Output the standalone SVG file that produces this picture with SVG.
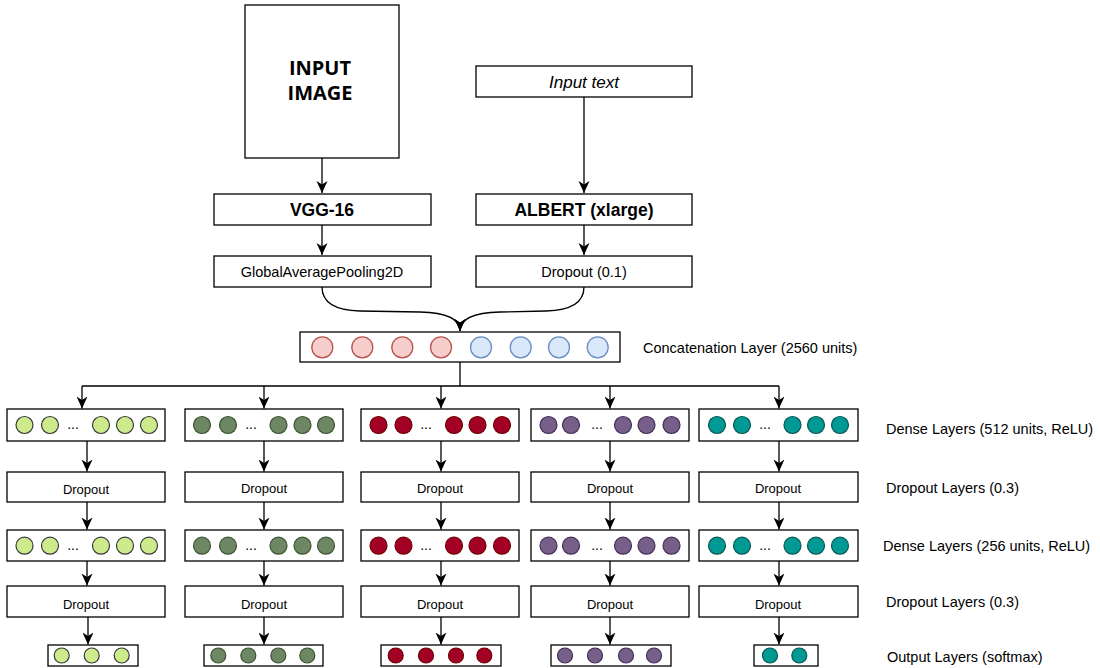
<svg xmlns="http://www.w3.org/2000/svg" width="1100" height="668" viewBox="0 0 1100 668">
<defs>
<marker id="arr" markerUnits="userSpaceOnUse" markerWidth="13" markerHeight="12" viewBox="0 0 13 12" refX="12" refY="6" orient="auto">
<path d="M0,0.5 L12,6 L0,11.5 L3.5,6 Z" fill="#000"/>
</marker>
<style>
.box{fill:#fff;stroke:#000;stroke-width:1.3}
.t{font-family:"Liberation Sans",Arial,Helvetica,sans-serif;fill:#000;text-anchor:middle}
.lbl{font-family:"Liberation Sans",Arial,Helvetica,sans-serif;fill:#000;font-size:14.5px}
.big{font-family:"Open Sans","Liberation Sans",sans-serif;font-weight:bold;font-size:20px;text-anchor:middle;fill:#000}
.b{font-weight:bold;font-size:17.5px}
.m{font-size:14.5px}
.d{font-size:13px}
.e{font-size:14px}
.ln{fill:none;stroke:#000;stroke-width:1.3}
.r{fill:#f8cecc;stroke:#b85450;stroke-width:1.3}
.u{fill:#dae8fc;stroke:#6c8ebf;stroke-width:1.3}
.c1{fill:#cdeb8b;stroke:#36393d;stroke-width:1.2}
.c2{fill:#6d8764;stroke:#3a5431;stroke-width:1.2}
.c3{fill:#a20025;stroke:#6f0000;stroke-width:1.2}
.c4{fill:#76608a;stroke:#432d57;stroke-width:1.2}
.c5{fill:#009994;stroke:#0a5552;stroke-width:1.2}
</style>
</defs>
<rect width="1100" height="668" fill="#fff"/>

<g id="connectors">
<path class="ln" d="M322,158 V193" marker-end="url(#arr)"/>
<path class="ln" d="M584,97 V193" marker-end="url(#arr)"/>
<path class="ln" d="M322,225 V255" marker-end="url(#arr)"/>
<path class="ln" d="M584,225 V255" marker-end="url(#arr)"/>
<path class="ln" d="M322,287 Q322,310 360,311 L420,312 Q460,313 460,331" marker-end="url(#arr)"/>
<path class="ln" d="M584,287 Q584,310 546,311 L500,312 Q460,313 460,331" marker-end="url(#arr)"/>
<path class="ln" d="M460,362 V386 M82,386 H779"/>
<path class="ln" d="M82,386 V408.5" marker-end="url(#arr)"/>
<path class="ln" d="M264,386 V408.5" marker-end="url(#arr)"/>
<path class="ln" d="M441,386 V408.5" marker-end="url(#arr)"/>
<path class="ln" d="M610,386 V408.5" marker-end="url(#arr)"/>
<path class="ln" d="M779,386 V408.5" marker-end="url(#arr)"/>
<path class="ln" d="M87,441 V471.5" marker-end="url(#arr)"/>
<path class="ln" d="M264,441 V471.5" marker-end="url(#arr)"/>
<path class="ln" d="M441,441 V471.5" marker-end="url(#arr)"/>
<path class="ln" d="M610,441 V471.5" marker-end="url(#arr)"/>
<path class="ln" d="M779,441 V471.5" marker-end="url(#arr)"/>
<path class="ln" d="M87,502 V529.5" marker-end="url(#arr)"/>
<path class="ln" d="M264,502 V529.5" marker-end="url(#arr)"/>
<path class="ln" d="M441,502 V529.5" marker-end="url(#arr)"/>
<path class="ln" d="M610,502 V529.5" marker-end="url(#arr)"/>
<path class="ln" d="M779,502 V529.5" marker-end="url(#arr)"/>
<path class="ln" d="M87,561 V585.5" marker-end="url(#arr)"/>
<path class="ln" d="M264,561 V585.5" marker-end="url(#arr)"/>
<path class="ln" d="M441,561 V585.5" marker-end="url(#arr)"/>
<path class="ln" d="M610,561 V585.5" marker-end="url(#arr)"/>
<path class="ln" d="M779,561 V585.5" marker-end="url(#arr)"/>
<path class="ln" d="M88,617 V644.5" marker-end="url(#arr)"/>
<path class="ln" d="M264,617 V644.5" marker-end="url(#arr)"/>
<path class="ln" d="M441,617 V644.5" marker-end="url(#arr)"/>
<path class="ln" d="M610,617 V644.5" marker-end="url(#arr)"/>
<path class="ln" d="M779,617 V644.5" marker-end="url(#arr)"/>
</g>

<g id="input-image">
<rect class="box" x="245" y="5" width="154" height="153"/>
<text class="big" x="320" y="75">INPUT</text>
<text class="big" x="320" y="100">IMAGE</text>
</g>
<g id="input-text">
<rect class="box" x="476" y="66" width="216" height="31"/>
<text class="t" x="584" y="88" font-style="italic" style="font-size:17px">Input text</text>
</g>
<g id="vgg16">
<rect class="box" x="214" y="194" width="217" height="31"/>
<text class="t b" x="322" y="216">VGG-16</text>
</g>
<g id="albert">
<rect class="box" x="476" y="194" width="216" height="31"/>
<text class="t b" x="584" y="216">ALBERT (xlarge)</text>
</g>
<g id="gap">
<rect class="box" x="214" y="256" width="217" height="31"/>
<text class="t m" x="322" y="277">GlobalAveragePooling2D</text>
</g>
<g id="dropout01">
<rect class="box" x="476" y="256" width="216" height="31"/>
<text class="t m" x="584" y="277">Dropout (0.1)</text>
</g>

<g id="concat">
<rect class="box" x="300" y="332" width="320" height="30"/>
<circle class="r" cx="322.3" cy="347.3" r="10.5"/>
<circle class="r" cx="362.3" cy="347.3" r="10.5"/>
<circle class="r" cx="402.3" cy="347.3" r="10.5"/>
<circle class="r" cx="441" cy="347.3" r="10.5"/>
<circle class="u" cx="481" cy="347.3" r="10.5"/>
<circle class="u" cx="520.7" cy="347.3" r="10.5"/>
<circle class="u" cx="559" cy="347.3" r="10.5"/>
<circle class="u" cx="597.7" cy="347.3" r="10.5"/>
</g>
<text class="lbl" x="643" y="353">Concatenation Layer (2560 units)</text>

<!-- Dense row 1 -->
<g id="dense1-1">
<rect class="box" x="7" y="409" width="158" height="32"/>
<circle class="c1" cx="24.5" cy="425" r="8.5"/><circle class="c1" cx="50" cy="425" r="8.5"/>
<text class="t e" x="73" y="429">...</text>
<circle class="c1" cx="101" cy="425" r="8.5"/><circle class="c1" cx="125" cy="425" r="8.5"/><circle class="c1" cx="149" cy="425" r="8.5"/>
</g>
<g id="dense1-2">
<rect class="box" x="185" y="409" width="158" height="32"/>
<circle class="c2" cx="202" cy="425" r="8.5"/><circle class="c2" cx="228" cy="425" r="8.5"/>
<text class="t e" x="251" y="429">...</text>
<circle class="c2" cx="278.5" cy="425" r="8.5"/><circle class="c2" cx="302.5" cy="425" r="8.5"/><circle class="c2" cx="326" cy="425" r="8.5"/>
</g>
<g id="dense1-3">
<rect class="box" x="361" y="409" width="158" height="32"/>
<circle class="c3" cx="378.5" cy="425" r="8.5"/><circle class="c3" cx="403.5" cy="425" r="8.5"/>
<text class="t e" x="426" y="429">...</text>
<circle class="c3" cx="454" cy="425" r="8.5"/><circle class="c3" cx="477.5" cy="425" r="8.5"/><circle class="c3" cx="502" cy="425" r="8.5"/>
</g>
<g id="dense1-4">
<rect class="box" x="531" y="409" width="158" height="32"/>
<circle class="c4" cx="548.5" cy="425" r="8.5"/><circle class="c4" cx="571" cy="425" r="8.5"/>
<text class="t e" x="597" y="429">...</text>
<circle class="c4" cx="623" cy="425" r="8.5"/><circle class="c4" cx="646.5" cy="425" r="8.5"/><circle class="c4" cx="671.5" cy="425" r="8.5"/>
</g>
<g id="dense1-5">
<rect class="box" x="699" y="409" width="159" height="32"/>
<circle class="c5" cx="717" cy="425" r="8.5"/><circle class="c5" cx="742" cy="425" r="8.5"/>
<text class="t e" x="765" y="429">...</text>
<circle class="c5" cx="792.5" cy="425" r="8.5"/><circle class="c5" cx="816" cy="425" r="8.5"/><circle class="c5" cx="840" cy="425" r="8.5"/>
</g>
<text class="lbl" x="886" y="434">Dense Layers (512 units, ReLU)</text>

<!-- Dropout row 1 -->
<g id="drop1-1"><rect class="box" x="7" y="472" width="158" height="30"/><text class="t d" x="86" y="494">Dropout</text></g>
<g id="drop1-2"><rect class="box" x="185" y="472" width="158" height="30"/><text class="t d" x="264" y="493">Dropout</text></g>
<g id="drop1-3"><rect class="box" x="361" y="472" width="158" height="30"/><text class="t d" x="440" y="493">Dropout</text></g>
<g id="drop1-4"><rect class="box" x="531" y="472" width="158" height="30"/><text class="t d" x="610" y="493">Dropout</text></g>
<g id="drop1-5"><rect class="box" x="699" y="472" width="159" height="30"/><text class="t d" x="778" y="493">Dropout</text></g>
<text class="lbl" x="886" y="493">Dropout Layers (0.3)</text>

<!-- Dense row 2 -->
<g id="dense2-1">
<rect class="box" x="7" y="530" width="158" height="31"/>
<circle class="c1" cx="24.5" cy="545.7" r="8.5"/><circle class="c1" cx="50" cy="545.7" r="8.5"/>
<text class="t e" x="73" y="550">...</text>
<circle class="c1" cx="101" cy="545.7" r="8.5"/><circle class="c1" cx="125" cy="545.7" r="8.5"/><circle class="c1" cx="149" cy="545.7" r="8.5"/>
</g>
<g id="dense2-2">
<rect class="box" x="185" y="530" width="158" height="31"/>
<circle class="c2" cx="202" cy="545.7" r="8.5"/><circle class="c2" cx="228" cy="545.7" r="8.5"/>
<text class="t e" x="251" y="550">...</text>
<circle class="c2" cx="278.5" cy="545.7" r="8.5"/><circle class="c2" cx="302.5" cy="545.7" r="8.5"/><circle class="c2" cx="326" cy="545.7" r="8.5"/>
</g>
<g id="dense2-3">
<rect class="box" x="361" y="530" width="158" height="31"/>
<circle class="c3" cx="378.5" cy="545.7" r="8.5"/><circle class="c3" cx="403.5" cy="545.7" r="8.5"/>
<text class="t e" x="426" y="550">...</text>
<circle class="c3" cx="454" cy="545.7" r="8.5"/><circle class="c3" cx="477.5" cy="545.7" r="8.5"/><circle class="c3" cx="502" cy="545.7" r="8.5"/>
</g>
<g id="dense2-4">
<rect class="box" x="531" y="530" width="158" height="31"/>
<circle class="c4" cx="548.5" cy="545.7" r="8.5"/><circle class="c4" cx="571" cy="545.7" r="8.5"/>
<text class="t e" x="597" y="550">...</text>
<circle class="c4" cx="623" cy="545.7" r="8.5"/><circle class="c4" cx="646.5" cy="545.7" r="8.5"/><circle class="c4" cx="671.5" cy="545.7" r="8.5"/>
</g>
<g id="dense2-5">
<rect class="box" x="699" y="530" width="159" height="31"/>
<circle class="c5" cx="717" cy="545.7" r="8.5"/><circle class="c5" cx="742" cy="545.7" r="8.5"/>
<text class="t e" x="765" y="550">...</text>
<circle class="c5" cx="792.5" cy="545.7" r="8.5"/><circle class="c5" cx="816" cy="545.7" r="8.5"/><circle class="c5" cx="840" cy="545.7" r="8.5"/>
</g>
<text class="lbl" x="883" y="551">Dense Layers (256 units, ReLU)</text>

<!-- Dropout row 2 -->
<g id="drop2-1"><rect class="box" x="7" y="586" width="158" height="31"/><text class="t d" x="86" y="609">Dropout</text></g>
<g id="drop2-2"><rect class="box" x="185" y="586" width="158" height="31"/><text class="t d" x="264" y="609">Dropout</text></g>
<g id="drop2-3"><rect class="box" x="361" y="586" width="158" height="31"/><text class="t d" x="440" y="609">Dropout</text></g>
<g id="drop2-4"><rect class="box" x="531" y="586" width="158" height="31"/><text class="t d" x="610" y="609">Dropout</text></g>
<g id="drop2-5"><rect class="box" x="699" y="586" width="159" height="31"/><text class="t d" x="778" y="609">Dropout</text></g>
<text class="lbl" x="886" y="607">Dropout Layers (0.3)</text>

<!-- Output layers -->
<g id="out-1">
<rect class="box" x="48" y="645" width="90" height="21"/>
<circle class="c1" cx="61.7" cy="655.5" r="7.5"/><circle class="c1" cx="91.7" cy="655.5" r="7.5"/><circle class="c1" cx="121.7" cy="655.5" r="7.5"/>
</g>
<g id="out-2">
<rect class="box" x="204" y="645" width="119" height="21"/>
<circle class="c2" cx="218.3" cy="655.5" r="7.5"/><circle class="c2" cx="248.3" cy="655.5" r="7.5"/><circle class="c2" cx="278.3" cy="655.5" r="7.5"/><circle class="c2" cx="307.3" cy="655.5" r="7.5"/>
</g>
<g id="out-3">
<rect class="box" x="381" y="645" width="120" height="21"/>
<circle class="c3" cx="395.7" cy="655.5" r="7.5"/><circle class="c3" cx="426" cy="655.5" r="7.5"/><circle class="c3" cx="456" cy="655.5" r="7.5"/><circle class="c3" cx="484.3" cy="655.5" r="7.5"/>
</g>
<g id="out-4">
<rect class="box" x="551" y="645" width="120" height="21"/>
<circle class="c4" cx="565" cy="655.5" r="7.5"/><circle class="c4" cx="595" cy="655.5" r="7.5"/><circle class="c4" cx="626" cy="655.5" r="7.5"/><circle class="c4" cx="654" cy="655.5" r="7.5"/>
</g>
<g id="out-5">
<rect class="box" x="754" y="645" width="64" height="21"/>
<circle class="c5" cx="770" cy="655.5" r="7.5"/><circle class="c5" cx="799.3" cy="655.5" r="7.5"/>
</g>
<text class="lbl" x="887" y="662">Output Layers (softmax)</text>
</svg>
